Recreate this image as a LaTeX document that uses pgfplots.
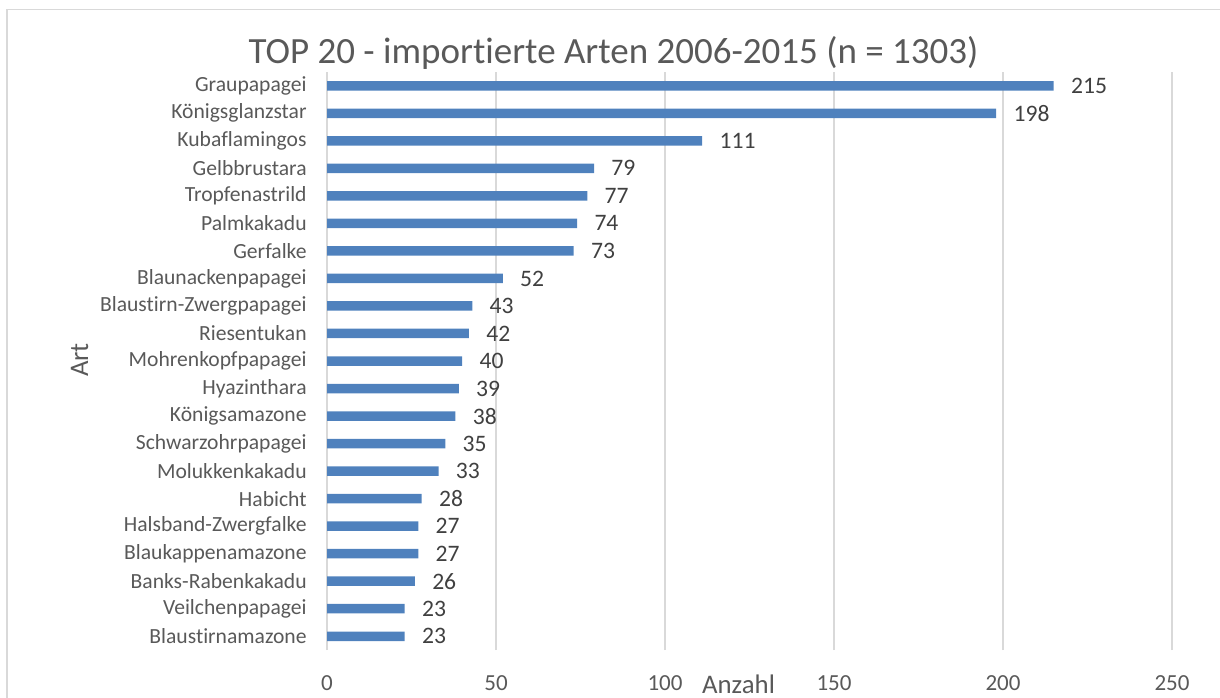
\documentclass[border=0pt]{standalone}
\usepackage{fontspec}
\setmainfont{Carlito}[Ligatures={NoCommon}]
\usepackage{pgfplots}
\pgfplotsset{compat=1.18}
\definecolor{barblue}{HTML}{4F81BD}
\definecolor{gridgray}{HTML}{D9D9D9}
\definecolor{labgray}{HTML}{595959}
\definecolor{datagray}{HTML}{404040}
\begin{document}
\begin{tikzpicture}
\path[use as bounding box] (0,0) rectangle (610pt,-348.5pt);
\draw[gridgray, line width=0.75pt] (3.5pt,-349pt) -- (3.5pt,-4.75pt) -- (611pt,-4.75pt);
\begin{axis}[
  at={(163.5pt,-325pt)}, anchor=south west,
  scale only axis,
  width=422.5pt, height=289pt,
  xmin=0, xmax=250, ymin=-0.5, ymax=20.5,
  xtick={0,50,100,150,200,250},
  ytick={0,...,20},
  yticklabels={Blaustirnamazone,Veilchenpapagei,Banks-Rabenkakadu,Blaukappenamazone,Halsband-Zwergfalke,Habicht,Molukkenkakadu,Schwarzohrpapagei,Königsamazone,Hyazinthara,Mohrenkopfpapagei,Riesentukan,Blaustirn-Zwergpapagei,Blaunackenpapagei,Gerfalke,Palmkakadu,Tropfenastrild,Gelbbrustara,Kubaflamingos,Königsglanzstar,Graupapagei},
  axis line style={draw=none},
  major tick length=0pt,
  xmajorgrids, grid style={gridgray, line width=0.9pt},
  /pgf/number format/assume math mode=true,
  xticklabel style={anchor=base, yshift=-20pt, inner sep=0pt, font=\fontsize{11.5}{13}\selectfont, text=labgray},
  yticklabel style={anchor=east, xshift=-10pt, inner sep=0pt, font=\fontsize{10.8}{12}\selectfont, text=labgray},
  xbar, bar width=4.75pt,
  nodes near coords,
  nodes near coords style={anchor=west, xshift=8.5pt, inner sep=0pt, font=\fontsize{11.8}{13}\selectfont, text=datagray, /pgf/number format/assume math mode=true},
  clip=false,
]
\addplot[fill=barblue, draw=none] coordinates {
(23,0) (23,1) (26,2) (27,3) (27,4) (28,5) (33,6) (35,7) (38,8) (39,9) (40,10) (42,11) (43,12) (52,13) (73,14) (74,15) (77,16) (79,17) (111,18) (198,19) (215,20)
};
\end{axis}
\node[anchor=base, text=labgray, font=\fontsize{18.5}{22}\selectfont, inner sep=0pt] at (306.75pt,-31.5pt) {TOP 20 - importierte Arten 2006-2015 (n = 1303)};
\node[anchor=base, text=labgray, font=\fontsize{13.4}{16}\selectfont, inner sep=0pt] at (369.25pt,-346.5pt) {Anzahl};
\node[anchor=base, rotate=90, text=labgray, font=\fontsize{13.4}{16}\selectfont, inner sep=0pt] at (44pt,-180pt) {Art};
\end{tikzpicture}
\end{document}
